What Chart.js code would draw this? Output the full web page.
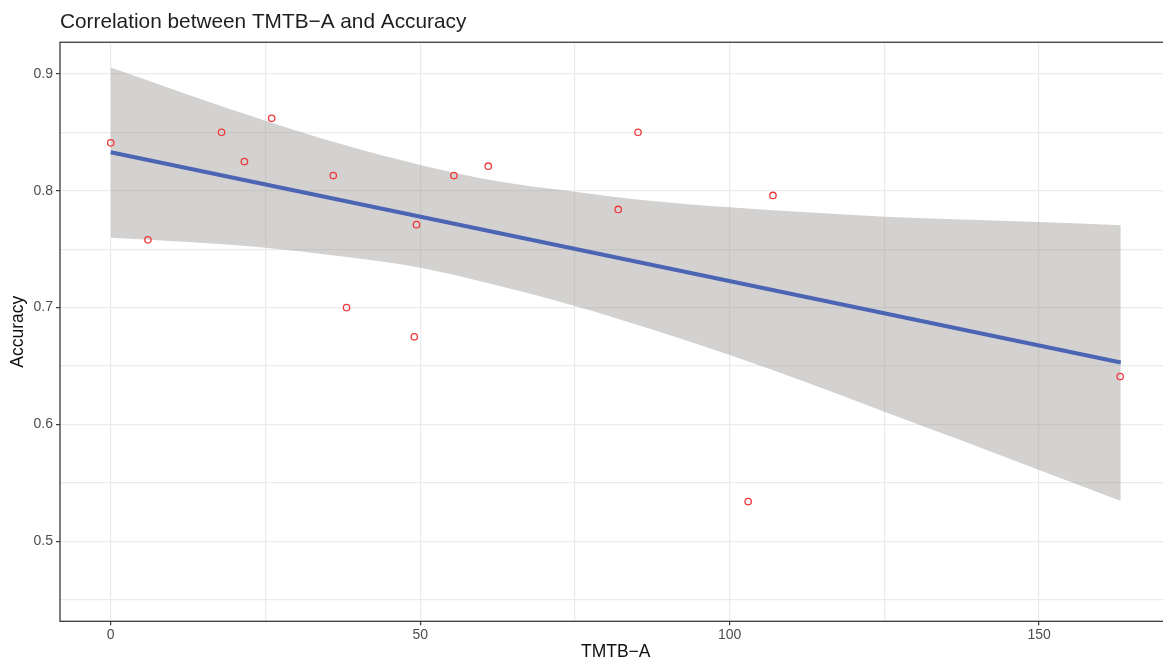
<!DOCTYPE html>
<html>
<head>
<meta charset="utf-8">
<script src="https://cdn.jsdelivr.net/npm/chart.js@4/dist/chart.umd.min.js"></script>
<style>
  html, body { margin: 0; padding: 0; background: #ffffff; overflow: hidden; }
  #wrap { width: 1163px; height: 662px; overflow: hidden; position: relative; }
  canvas { display: block; }
</style>
</head>
<body>
<div id="wrap"><canvas id="c" width="1180" height="662"></canvas></div>
<script>
// ---- Data ----
const tmtbA    = [0, 6.0, 17.9, 21.6, 26.0, 35.95, 38.1, 49.05, 49.4, 55.45, 61.0, 82.0, 85.2, 103.0, 107.0, 163.1];
const accuracy = [0.841, 0.758, 0.850, 0.825, 0.862, 0.813, 0.700, 0.675, 0.771, 0.813, 0.821, 0.784, 0.850, 0.534, 0.796, 0.641];

const fitX = [0, 163.2];
const fitY = [0.833, 0.653];

const bandX     = [0, 12.5, 25, 37.5, 50, 62.5, 75, 87.5, 100, 112.5, 125, 137.5, 150, 163.2];
const bandUpper = [0.9054, 0.8822, 0.8600, 0.8395, 0.8221, 0.8082, 0.7992, 0.7913, 0.7859, 0.7815, 0.7778, 0.7753, 0.7733, 0.7705];
const bandLower = [0.7598, 0.7562, 0.7513, 0.7437, 0.7342, 0.7189, 0.7014, 0.6813, 0.6594, 0.6359, 0.6109, 0.5862, 0.5610, 0.5345];

const xMajorTicks = [0, 50, 100, 150];
const yMajorTicks = [0.5, 0.6, 0.7, 0.8, 0.9];

const titleText  = 'Correlation between TMTB\u2212A and Accuracy';
const xTitleText = 'TMTB\u2212A';
const yTitleText = 'Accuracy';

// ---- helpers ----
const zip = (xs, ys) => xs.map((x, i) => ({ x: x, y: ys[i] }));
const isMajor = (v, list) => list.some(t => Math.abs(t - v) < 1e-9);

const panelBorder = {
  id: 'panelBorder',
  afterDraw(chart) {
    const { ctx, chartArea: a } = chart;
    ctx.save();
    ctx.strokeStyle = '#3a3a3a';
    ctx.lineWidth = 1.3;
    ctx.strokeRect(a.left, a.top, a.right - a.left, a.bottom - a.top);
    ctx.restore();
  }
};

const FONT = "'Liberation Sans', Arial, sans-serif";

new Chart(document.getElementById('c'), {
  type: 'scatter',
  data: {
    datasets: [
      {
        label: 'points',
        data: zip(tmtbA, accuracy),
        pointStyle: 'circle',
        pointRadius: 3.2,
        pointBorderWidth: 1.3,
        pointBorderColor: 'rgb(240,58,62)',
        pointBackgroundColor: 'rgba(0,0,0,0)',
        showLine: false
      },
      {
        type: 'line',
        label: 'fit',
        data: zip(fitX, fitY),
        borderColor: '#4B64B4',
        borderWidth: 4,
        pointRadius: 0,
        fill: false,
        tension: 0
      },
      {
        type: 'line',
        label: 'upper',
        data: zip(bandX, bandUpper),
        borderWidth: 0,
        borderColor: 'rgba(0,0,0,0)',
        pointRadius: 0,
        cubicInterpolationMode: 'monotone',
        fill: { target: '+1' },
        backgroundColor: 'rgba(150,148,146,0.42)'
      },
      {
        type: 'line',
        label: 'lower',
        data: zip(bandX, bandLower),
        borderWidth: 0,
        borderColor: 'rgba(0,0,0,0)',
        pointRadius: 0,
        cubicInterpolationMode: 'monotone',
        fill: false
      }
    ]
  },
  options: {
    responsive: false,
    animation: false,
    layout: { padding: { left: 0, right: 8.5, top: 0, bottom: 0 } },
    plugins: {
      legend: { display: false },
      tooltip: { enabled: false },
      title: {
        display: true,
        text: titleText,
        align: 'start',
        fullSize: false,
        color: '#1e1e1e',
        font: { family: FONT, size: 20.8, weight: 'normal', lineHeight: 1.2 },
        padding: { top: 9.5, bottom: 7.8 }
      }
    },
    scales: {
      x: {
        type: 'linear',
        min: -8.2,
        max: 171.4,
        afterFit(s) { s.height = 40.7; },
        border: { display: false },
        grid: {
          color: '#EBEBEB',
          lineWidth: 1.2,
          drawTicks: true,
          tickLength: 4,
          tickWidth: 1.2,
          tickColor: ctx => (ctx.tick && isMajor(ctx.tick.value, xMajorTicks)) ? '#3a3a3a' : 'rgba(0,0,0,0)'
        },
        ticks: {
          stepSize: 25,
          includeBounds: false,
          autoSkip: false,
          maxRotation: 0,
          padding: 1,
          color: '#4D4D4D',
          font: { family: FONT, size: 14 },
          callback: v => isMajor(v, xMajorTicks) ? String(v) : ''
        },
        title: {
          display: true,
          text: xTitleText,
          color: '#111111',
          font: { family: FONT, size: 17.5, lineHeight: 1 },
          padding: { top: 0, bottom: 1 }
        }
      },
      y: {
        type: 'linear',
        min: 0.4315,
        max: 0.9271,
        afterFit(s) { s.width = 60; },
        border: { display: false },
        grid: {
          color: '#EBEBEB',
          lineWidth: 1.2,
          drawTicks: true,
          tickLength: 4,
          tickWidth: 1.2,
          tickColor: ctx => (ctx.tick && isMajor(Math.round(ctx.tick.value * 1000) / 1000, yMajorTicks)) ? '#3a3a3a' : 'rgba(0,0,0,0)'
        },
        ticks: {
          stepSize: 0.05,
          includeBounds: false,
          autoSkip: false,
          padding: 3,
          color: '#4D4D4D',
          font: { family: FONT, size: 14 },
          callback: v => {
            const r = Math.round(v * 1000) / 1000;
            return isMajor(r, yMajorTicks) ? r.toFixed(1) : '';
          }
        },
        title: {
          display: true,
          text: yTitleText,
          color: '#111111',
          font: { family: FONT, size: 17.5, lineHeight: 1 },
          padding: { top: 9.5, bottom: 0 }
        }
      }
    }
  },
  plugins: [panelBorder]
});
</script>
</body>
</html>
